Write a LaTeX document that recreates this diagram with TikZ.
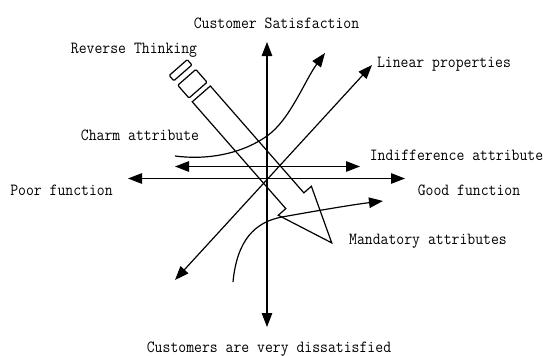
\documentclass[tikz,border=0pt]{standalone}
\usepackage{fontspec}
\usetikzlibrary{arrows.meta}
\newcommand{\mylbl}[1]{\scalebox{0.9}[1]{#1}}
\begin{document}
\begin{tikzpicture}[x=1pt,y=-1pt,
  ln/.style={line width=1.2pt},
  hd/.tip={Triangle[length=14pt,width=10.5pt]},
  lbl/.style={font=\ttfamily\fontsize{17}{20}\selectfont, inner sep=0pt, anchor=base}]
\useasboundingbox (0,0) rectangle (547,356);
% end points
\coordinate (vt) at (267,42);
\coordinate (vb) at (267,327);
\coordinate (hl) at (128,178.5);
\coordinate (hr) at (405,178.5);
\coordinate (il) at (175,166.5);
\coordinate (ir) at (360,166.5);
\coordinate (ll) at (175,280);
\coordinate (lr) at (372,65);
\coordinate (cs) at (175,156);
\coordinate (cm) at (267,136);
\coordinate (ce) at (325,53);
\coordinate (ms) at (233,282);
\coordinate (mm) at (282,217);
\coordinate (me) at (383,201);
% axes and lines
\draw[ln,hd-hd] (vb) -- (vt);
\draw[ln,hd-hd] (hl) -- (hr);
\draw[ln,hd-hd] (il) -- (ir);
\draw[ln,hd-hd] (ll) -- (lr);
\draw[ln,-hd] (cs) .. controls (205,160) and (240,155) .. (cm)
                   .. controls (290,120) and (305,80) .. (ce);
\draw[ln,-hd] (ms) .. controls (237,240) and (255,222) .. (mm)
                   .. controls (310,212) and (350,205) .. (me);
% pencil
\begin{scope}[shift={(201.3,93.9)}, rotate=-48.8]
\draw[ln] (0,12) -- (142,12) -- (142,22) -- (198,0) -- (142,-22) -- (142,-12) -- (0,-12) -- cycle;
\draw[ln, rounded corners=1pt] (-22,-12) rectangle (-5,12);
\draw[ln, rounded corners=1pt] (-35,-12) rectangle (-28,12);
\end{scope}
% labels
\node[lbl] (tcs) at (276.5,28.5) {\mylbl{Customer Satisfaction}};
\node[lbl] (trt) at (134,53.5) {\mylbl{Reverse Thinking}};
\node[lbl] (tlp) at (444,67.5) {\mylbl{Linear properties}};
\node[lbl] (tca) at (140,140.7) {\mylbl{Charm attribute}};
\node[lbl] (tia) at (456.5,160.7) {\mylbl{Indifference attribute}};
\node[lbl] (tpf) at (61.5,195.5) {\mylbl{Poor function}};
\node[lbl] (tgf) at (469,195.7) {\mylbl{Good function}};
\node[lbl] (tma) at (428,244) {\mylbl{Mandatory attributes}};
\node[lbl] (tcd) at (269,352.5) {\mylbl{Customers are very dissatisfied}};
\end{tikzpicture}
\end{document}
